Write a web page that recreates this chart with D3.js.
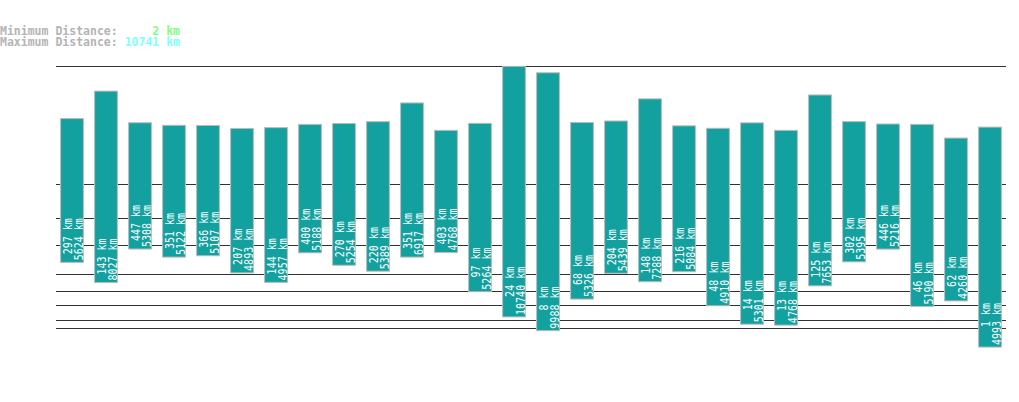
<!DOCTYPE html>
<html>
<head>
<meta charset="utf-8">
<script src="https://cdn.jsdelivr.net/npm/d3@7"></script>
<style>
body{margin:0;background:#fff;}
text{font-family:"DejaVu Sans Mono",monospace;white-space:pre;}
</style>
</head>
<body>
<div id="chart"></div>
<script>
// min / max distance per bar (km)
var minDist=[297,143,447,351,366,207,144,400,270,220,351,403,97,24,8,68,204,148,216,48,14,13,125,302,446,46,62,1];
var maxDist=[5624,8027,5308,5122,5107,4893,4957,5188,5254,5389,6917,4768,5264,10740,9988,5326,5439,7288,5084,4910,5301,4768,7653,5395,5216,5190,4260,4993];
var gridValues=[10,20,50,100,200,500,1000,2000];
var overallMin=2, overallMax=10741;

var width=1019, height=402;
var svg=d3.select("#chart").append("svg")
    .attr("width",width)
    .attr("height",height);

var x=d3.scaleBand()
    .domain(d3.range(minDist.length))
    .range([55,1007])
    .paddingInner(0.3)
    .paddingOuter(0.15);
var y=d3.scalePow()
    .exponent(0.295)
    .domain([0,overallMax])
    .range([366.5,66.4]);

// header
var head=svg.append("g").attr("font-size","11.5px").attr("font-weight","bold");
var h1=head.append("text").attr("x",0).attr("y",35);
h1.append("tspan").attr("fill","#b4b4b4").text("Minimum Distance: ");
h1.append("tspan").attr("fill","#80ff80").text((overallMin+" km").padStart(8," "));
var h2=head.append("text").attr("x",0).attr("y",46);
h2.append("tspan").attr("fill","#b4b4b4").text("Maximum Distance: ");
h2.append("tspan").attr("fill","#80ffff").text((overallMax+" km").padStart(8," "));

// grid lines
svg.append("g").selectAll("line")
    .data(gridValues.concat([overallMax]))
    .enter().append("line")
    .attr("x1",56).attr("x2",1006)
    .attr("y1",function(d){return Math.round(y(d))+0.5;})
    .attr("y2",function(d){return Math.round(y(d))+0.5;})
    .attr("stroke","#333")
    .attr("stroke-width",1.2);

// bars
var bars=svg.append("g").selectAll("g")
    .data(minDist)
    .enter().append("g");
bars.append("rect")
    .attr("x",function(d,i){return x(i)+0.5;})
    .attr("y",function(d,i){return y(maxDist[i]);})
    .attr("width",x.bandwidth()-1)
    .attr("height",function(d,i){return y(d)-y(maxDist[i]);})
    .attr("fill","#12a19f")
    .attr("stroke","#bbbbbb")
    .attr("stroke-width",1);

var labels=bars.append("text")
    .attr("font-size","10px")
    .attr("fill","#fff")
    .attr("transform",function(d,i){
        return "translate("+(x(i)+x.bandwidth()/2)+","+(y(d)-2)+") rotate(-90) scale(1,1.2)";
    });
labels.append("tspan")
    .attr("x",0).attr("y",0)
    .text(function(d,i){
        var m=maxDist[i]+" km";
        return (d+" km").padStart(m.length," ");
    });
labels.append("tspan")
    .attr("x",0).attr("y",9.5)
    .text(function(d,i){return maxDist[i]+" km";});
</script>
</body>
</html>
